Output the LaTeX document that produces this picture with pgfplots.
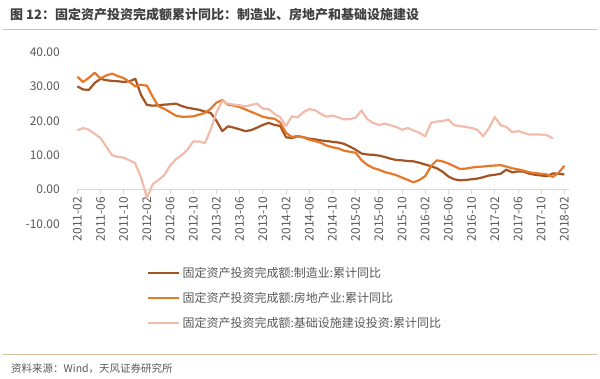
\documentclass[border=0pt]{standalone}
\usepackage{fontspec}
\setmainfont{Noto Sans CJK SC}
\usepackage{pgfplots}
\usepackage{pgfplotstable}
\pgfplotsset{compat=1.18}
\definecolor{cM}{RGB}{163,84,36}
\definecolor{cR}{RGB}{230,120,42}
\definecolor{cI}{RGB}{242,188,172}
\definecolor{txt}{RGB}{89,89,89}
\definecolor{ttl}{RGB}{64,64,64}
\definecolor{rule}{RGB}{214,192,160}
\pgfplotstableread{
m M R I
0 30.0 32.8 17.2
1 29.1 31.3 17.9
2 29.0 32.5 17.4
3 31.0 34.0 16.2
4 32.2 32.3 15.0
5 31.8 33.2 12.5
6 31.6 33.7 10.0
7 31.5 33.0 9.5
8 31.3 32.4 9.3
9 31.5 31.3 8.5
10 32.2 30.0 7.6
11 27.5 30.5 3.5
12 24.6 30.2 -2.4
13 24.4 27.0 1.5
14 24.5 24.2 2.8
15 24.7 23.5 4.2
16 24.8 22.5 7.0
17 25.0 21.5 8.8
18 24.3 21.2 10.0
19 23.8 21.2 11.6
20 23.5 21.3 14.0
21 23.2 21.8 14.0
22 22.7 22.3 13.5
23 22.3 23.5 17.4
24 20.0 25.3 22.5
25 17.0 26.0 25.7
26 18.4 24.7 25.0
27 18.0 24.4 24.7
28 17.5 24.0 24.5
29 17.0 23.3 24.2
30 17.3 22.6 24.6
31 18.0 21.9 25.0
32 18.8 21.2 23.5
33 19.4 20.8 23.4
34 18.8 20.6 22.0
35 18.5 19.5 21.0
36 15.2 16.5 18.5
37 15.0 15.3 21.3
38 15.5 15.6 21.0
39 15.2 15.2 22.5
40 14.8 14.5 23.4
41 14.6 14.1 23.1
42 14.3 13.6 22.0
43 14.1 12.8 21.2
44 13.9 12.3 21.5
45 13.7 12.0 21.0
46 13.3 11.3 20.4
47 12.5 11.0 20.5
48 11.6 10.7 20.9
49 10.5 8.6 23.0
50 10.2 7.2 20.5
51 10.1 6.3 19.4
52 9.9 5.8 18.8
53 9.5 5.1 19.2
54 9.0 4.7 18.7
55 8.6 4.2 18.2
56 8.5 3.5 17.4
57 8.3 2.8 17.9
58 8.2 2.1 17.2
59 7.8 2.8 16.5
60 7.3 3.9 15.5
61 6.8 6.8 19.4
62 6.2 8.5 19.8
63 5.2 8.2 19.9
64 3.8 7.6 20.4
65 3.0 6.8 18.7
66 2.7 6.0 18.5
67 2.8 6.1 18.2
68 3.0 6.4 17.9
69 3.2 6.6 17.4
70 3.6 6.7 15.5
71 4.1 6.9 17.9
72 4.3 7.0 21.1
73 4.6 7.1 18.7
74 5.8 6.7 18.2
75 5.0 6.2 16.7
76 5.3 5.9 17.0
77 5.2 5.5 16.5
78 4.6 5.0 16.0
79 4.3 4.8 16.0
80 4.1 4.6 16.0
81 3.9 4.4 15.8
82 4.7 3.7 14.9
83 4.6 4.9 nan
84 4.4 6.9 nan
}\data
\begin{document}
\begin{tikzpicture}
\path[use as bounding box] (0,0) rectangle (600pt,379pt);
\node[anchor=west, font=\bfseries\fontsize{13}{13}\selectfont, color=ttl, inner sep=0pt] at (10pt,364pt) {图 12：固定资产投资完成额累计同比：制造业、房地产和基础设施建设};
\draw[rule, line width=1pt] (3pt,349pt) -- (597pt,349pt);
\draw[rule, line width=1pt] (3pt,24.5pt) -- (597pt,24.5pt);
\node[anchor=west, font=\fontsize{10.5}{10.5}\selectfont, color=txt, inner sep=0pt] at (11pt,10pt) {资料来源：Wind，天风证券研究所};
\begin{axis}[
  at={(77.3pt,155pt)}, anchor=south west, scale only axis,
  width=491.7pt, height=172pt,
  xmin=0, xmax=84.8, ymin=-10, ymax=40,
  axis x line=middle, axis y line=left,
  hide obscured x ticks=false, hide obscured y ticks=false,
  y axis line style={draw=none},
  x axis line style={draw=black!15, line width=0.8pt, -},
  xtick={0,4,...,84},
  xticklabels={2011-02,2011-06,2011-10,2012-02,2012-06,2012-10,2013-02,2013-06,2013-10,2014-02,2014-06,2014-10,2015-02,2015-06,2015-10,2016-02,2016-06,2016-10,2017-02,2017-06,2017-10,2018-02},
  x tick label style={rotate=90, anchor=east, font=\fontsize{12}{12}\selectfont, color=txt},
  x tick style={draw=black!15, line width=0.8pt},
  tick align=outside, major tick length=4pt,
  ytick={-10,0,10,20,30,40},
  yticklabels={-10.00,0.00,10.00,20.00,30.00,40.00},
  y tick label style={font=\fontsize{12}{12}\selectfont, color=txt, xshift=-10pt},
  y tick style={draw=none},
  clip=false,
  legend style={at={(0.142,-0.24)}, anchor=north west, draw=none, fill=none,
    font=\fontsize{12}{12}\selectfont, text=txt, row sep=9pt, inner sep=0pt},
  legend cell align=left,
  legend image code/.code={\draw[#1] (0pt,0pt) -- (31pt,0pt);},
]
\addplot[cM, line width=2.2pt, line join=round] table[x=m,y=M]{\data};
\addlegendentry{固定资产投资完成额:制造业:累计同比}
\addplot[cR, line width=2.2pt, line join=round] table[x=m,y=R]{\data};
\addlegendentry{固定资产投资完成额:房地产业:累计同比}
\addplot[cI, line width=2.2pt, line join=round] table[x=m,y=I]{\data};
\addlegendentry{固定资产投资完成额:基础设施建设投资:累计同比}
\end{axis}
\end{tikzpicture}
\end{document}
